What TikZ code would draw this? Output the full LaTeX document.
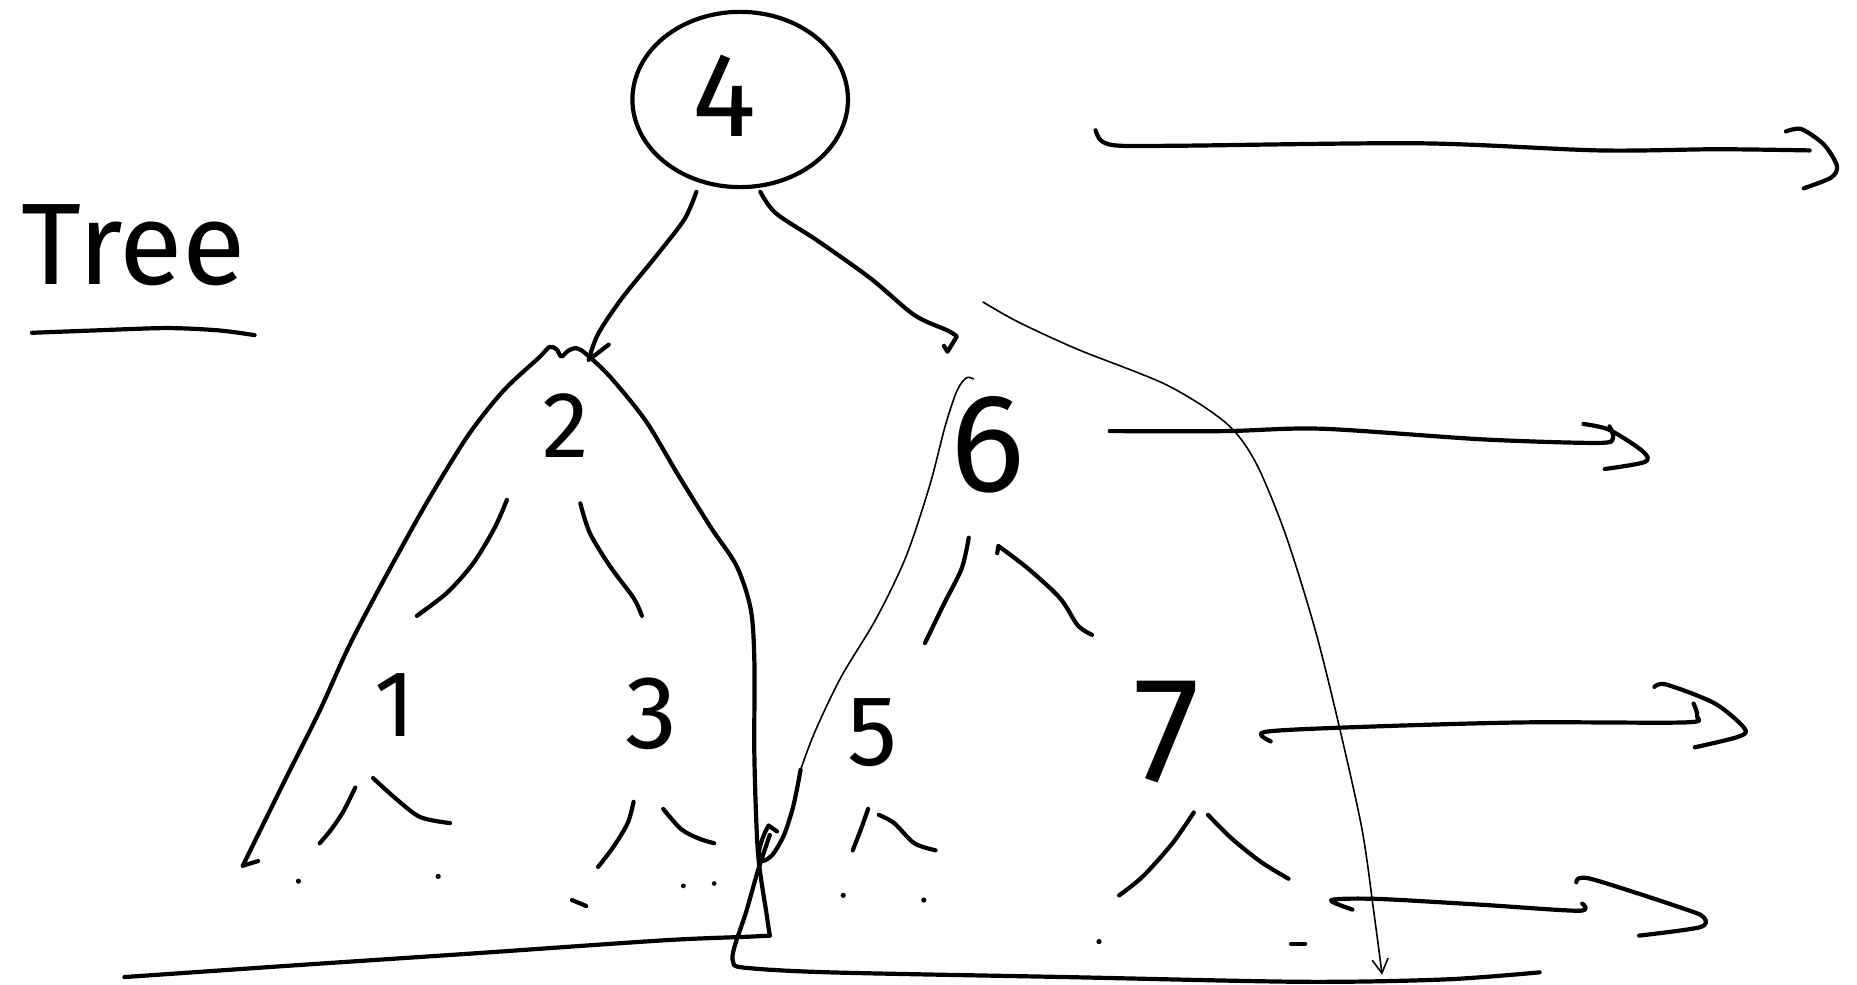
\documentclass[tikz,border=0pt]{standalone}
\usepackage{fontspec}
\setmainfont{Fira Sans}
\usetikzlibrary{arrows.meta}
\begin{document}
\begin{tikzpicture}[x=0.59215pt,y=-0.59215pt,
  pen/.style={line width=2.1pt,line cap=round,line join=round},
  fine/.style={line width=0.8pt,line cap=round,line join=round},
  digit/.style={font=\fontsize{#1pt}{#1pt}\selectfont,anchor=base,inner sep=0pt}]
\useasboundingbox (0,0) rectangle (1568,831);

% title
\node[digit=58,anchor=base west] (title) at (18,240) {Tree};
\draw[pen] plot[smooth] coordinates {(27,281) (80,279) (141,277) (185,279) (215,283)};

% root
\draw[pen] (625,84) ellipse [x radius=91, y radius=74];
\node[digit=60] (n4) at (612,115) {4};

% edges from root
\draw[pen] plot[smooth] coordinates {(588,162) (578,185) (555,215) (525,252) (505,282) (497,304)} -- (514,291);
\draw[pen] plot[smooth] coordinates {(642,162) (655,180) (690,203) (735,235) (772,266) (800,279) (808,284)} -- (800,297) -- (797,292);

% thin long curve
\draw[fine,-{Straight Barb[length=7pt,width=8pt]}] plot[smooth] coordinates {(830,255) (860,272) (910,295) (985,325) (1035,357) (1060,390) (1085,450) (1110,530) (1130,610) (1150,700) (1160,770) (1167,823)};

% left subtree outline
\draw[pen] plot[smooth] coordinates {(205,731) (240,660) (270,600) (295,545) (325,488) (360,425) (395,368) (425,330) (455,302) (464,293) (470,295) (474,301) (480,296) (487,294) (495,299) (515,318) (545,355) (572,400) (600,445) (622,478) (634,515) (637,560) (637,640) (640,720) (647,770) (650,790)};
\draw[pen] (205,731) -- (218,727);
\draw[pen] plot[smooth] coordinates {(650,790) (630,791) (560,794) (400,805) (250,815) (105,825)};

% right subtree outline
\draw[fine] plot[smooth] coordinates {(822,320) (816,319) (808,330) (798,360) (785,410) (765,470) (740,522) (710,572) (688,618) (676,650)};
\draw[pen] plot[smooth] coordinates {(676,650) (670,680) (662,705) (652,722) (643,727) (641,718) (645,705) (649,697)} -- (656,702);
\draw[pen] plot[smooth] coordinates {(650,705) (640,735) (630,770) (620,800) (619,812) (628,817) (700,821) (900,825) (1100,829) (1220,827) (1300,821)};

% digits
\node[digit=47] (n2) at (478,386) {2};
\node[digit=70] (n6) at (834,415) {6};
\node[digit=47] (n1) at (333,622) {1};
\node[digit=52] (n3) at (550,632) {3};
\node[digit=50] (n5) at (737,646) {5};
\node[digit=75] (n7) at (985,660) {7};

% branches under 2
\draw[pen] plot[smooth] coordinates {(428,422) (418,445) (400,475) (378,500) (352,520)} -- (360,514);
\draw[pen] plot[smooth] coordinates {(490,425) (498,450) (515,478) (535,505) (542,520)};
% branches under 6
\draw[pen] plot[smooth] coordinates {(818,454) (812,480) (797,510) (781,543)};
\draw[pen] (842,467) -- (843,461) plot[smooth] coordinates {(843,461) (868,480) (895,505) (910,528) (922,536)};
% branches under 1
\draw[pen] plot[smooth] coordinates {(300,665) (290,685) (280,700) (270,712)};
\draw[pen] plot[smooth] coordinates {(315,657) (335,675) (355,690) (380,695)};
% branches under 3
\draw[pen] plot[smooth] coordinates {(535,677) (530,695) (518,715) (505,732)};
\draw[pen] plot[smooth] coordinates {(560,683) (575,700) (590,708) (603,712)};
% branches under 5
\draw[pen] plot[smooth] coordinates {(733,683) (727,700) (720,718)};
\draw[pen] plot[smooth] coordinates {(742,688) (755,695) (772,712) (790,718)};
% branches under 7
\draw[pen] plot[smooth] coordinates {(1008,686) (990,712) (965,740) (945,756)};
\draw[pen] plot[smooth] coordinates {(1020,688) (1040,708) (1065,728) (1088,742)};

% leaf dots
\fill (252,744) circle [radius=2.2];
\fill (370,740) circle [radius=2.2];
\draw[pen] (483,760) -- (495,765);
\fill (577,748) circle [radius=2];
\fill (603,746) circle [radius=2];
\fill (712,756) circle [radius=2.2];
\fill (780,760) circle [radius=2.2];
\fill (928,795) circle [radius=2.2];
\draw[pen] (1090,797) -- (1102,797);

% level arrows
\draw[pen] plot[smooth] coordinates {(925,110) (930,119) (945,123) (1000,123) (1200,121) (1350,127) (1450,126) (1528,127)};
\draw[pen] plot[smooth] coordinates {(1508,111) (1521,109) (1540,122) (1551,140) (1546,150) (1523,159)};

\draw[pen] plot[smooth] coordinates {(937,364) (1035,364) (1116,362) (1252,371) (1349,374) (1362,370) (1359,360)};
\draw[pen] plot[smooth] coordinates {(1337,358) (1359,363) (1387,381) (1389,390) (1355,396)};

\draw[pen] plot[smooth] coordinates {(1073,626) (1068,618) (1143,614) (1284,610) (1422,610) (1433,605) (1430,594)};
\draw[pen] plot[smooth] coordinates {(1397,580) (1407,578) (1448,594) (1473,615) (1468,622) (1431,631)};

\draw[pen] plot[smooth] coordinates {(1142,768) (1124,760) (1163,759) (1252,764) (1333,769) (1336,763)};
\draw[pen] plot[smooth] coordinates {(1331,745) (1343,742) (1424,768) (1439,775) (1435,783) (1384,790)};
\end{tikzpicture}
\end{document}
